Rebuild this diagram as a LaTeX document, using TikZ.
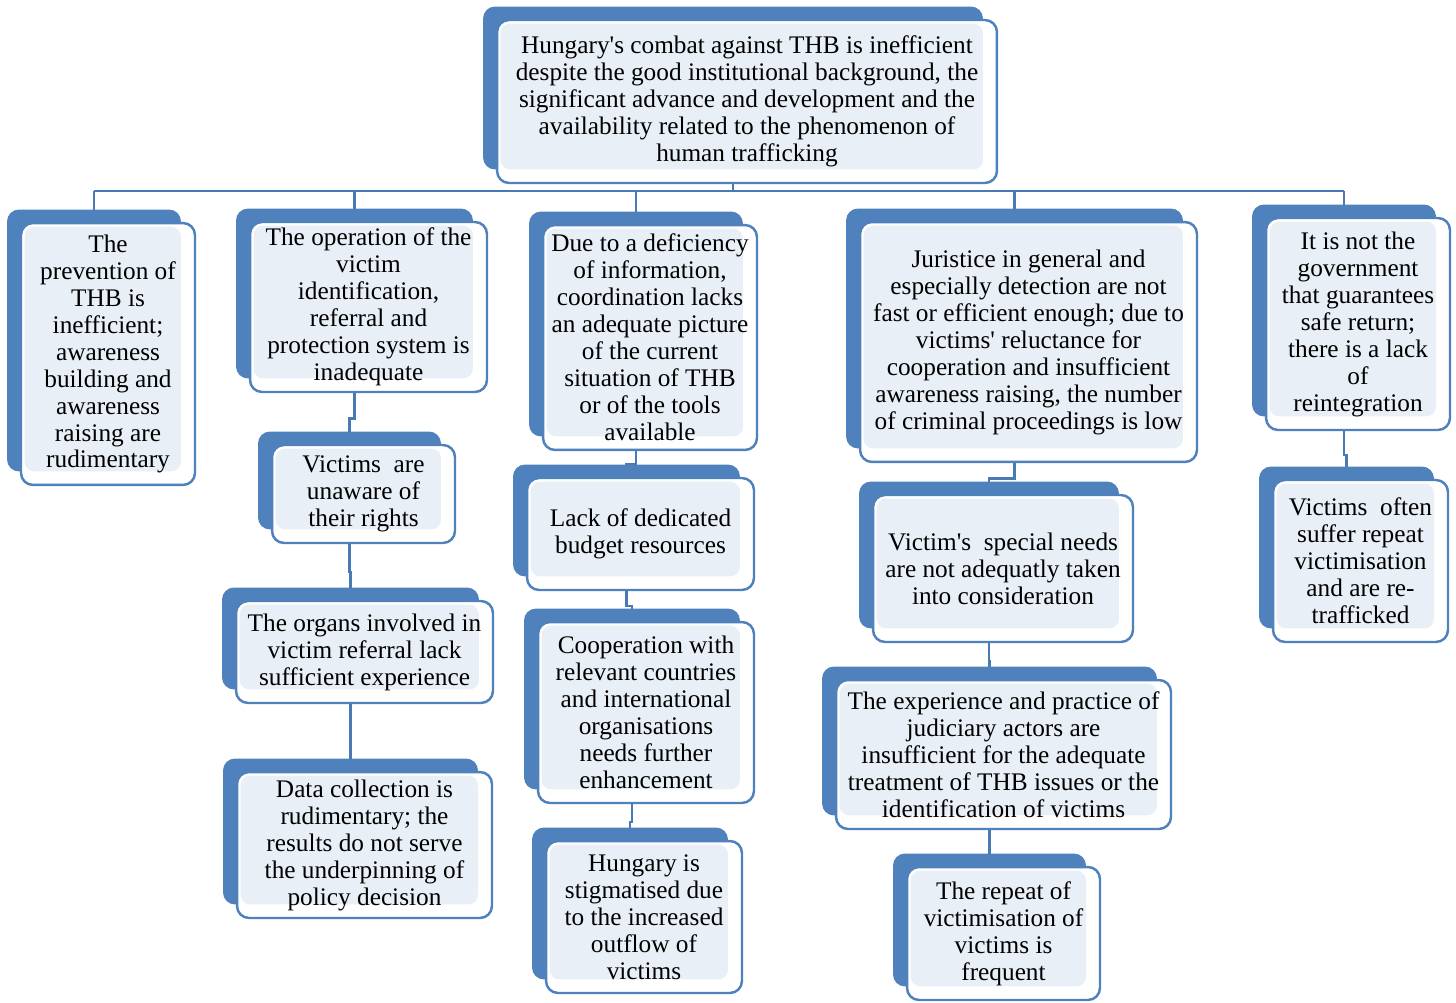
\documentclass[tikz,border=0pt]{standalone}
\usepackage{fontspec}
\setmainfont{Liberation Serif}
\usepackage[HTML]{xcolor}
\usepackage{tikz}
\usetikzlibrary{positioning, calc, shadows, backgrounds}

\definecolor{boxblue}{HTML}{4F81BD}
\definecolor{boxtint}{HTML}{E9EFF7}
\definecolor{linkblue}{HTML}{4A7AB4}

\begin{document}
\begin{tikzpicture}[x=0.02cm, y=-0.02cm,
  every node/.style={font=\fontsize{14.4}{15.36}\selectfont},
  probbox/.style={rectangle, rounded corners=0.24cm, draw=boxblue, line width=1.4pt,
    fill=white, align=center, inner sep=1pt,
    general shadow={fill=boxblue, shadow xshift=-0.28cm, shadow yshift=0.27cm},
    path picture={\fill[boxtint, rounded corners=0.2cm]
      ([shift={(0.07cm,0.27cm)}]path picture bounding box.south west) rectangle
      ([shift={(-0.28cm,-0.07cm)}]path picture bounding box.north east);}},
  link/.style={draw=linkblue, line width=1.5pt}]
\useasboundingbox (0,0) rectangle (1456,1003);

% Define the nodes
\node[probbox, minimum width=10cm, minimum height=3.26cm] (top) at (747,101.5)
  {Hungary\textquotesingle s combat against THB is inefficient\\despite the good institutional background, the\\significant advance and development and the\\availability related to the phenomenon of\\human trafficking};

\node[probbox, minimum width=3.48cm, minimum height=5.24cm] (prev) at (108,354)
  {The\\prevention of\\THB is\\inefficient;\\awareness\\building and\\awareness\\raising are\\rudimentary};

\node[probbox, minimum width=4.74cm, minimum height=3.4cm] (oper) at (368.5,307)
  {The operation of the\\victim\\identification,\\referral and\\protection system is\\inadequate};
\node[probbox, minimum width=3.66cm, minimum height=1.96cm] (unaware) at (363.5,494)
  {Victims\ \ are\\unaware of\\their rights};
\node[probbox, minimum width=5.14cm, minimum height=2.04cm] (organs) at (364.5,652)
  {The organs involved in\\victim referral lack\\sufficient experience};
\node[probbox, minimum width=5.1cm, minimum height=2.92cm] (data) at (364.5,845)
  {Data collection is\\rudimentary; the\\results do not serve\\the underpinning of\\policy decision};

\node[probbox, minimum width=4.28cm, minimum height=4.5cm] (defic) at (650,337.5)
  {Due to a deficiency\\of information,\\coordination lacks\\an adequate picture\\of the current\\situation of THB\\or of the tools\\available};
\node[probbox, minimum width=4.54cm, minimum height=2.24cm] (budget) at (640.5,534)
  {Lack of dedicated\\budget resources};
\node[probbox, minimum width=4.32cm, minimum height=3.62cm] (coop) at (646,712.5)
  {Cooperation with\\relevant countries\\and international\\organisations\\needs further\\enhancement};
\node[probbox, minimum width=3.92cm, minimum height=3.04cm] (stigma) at (644,917)
  {Hungary is\\stigmatised due\\to the increased\\outflow of\\victims};

\node[probbox, minimum width=6.74cm, minimum height=4.8cm] (just) at (1028.5,342)
  {Juristice in general and\\especially detection are not\\fast or efficient enough; due to\\victims\textquotesingle\ reluctance for\\cooperation and insufficient\\awareness raising, the number\\of criminal proceedings is low};
\node[probbox, minimum width=5.2cm, minimum height=2.94cm] (needs) at (1003,568.5)
  {Victim\textquotesingle s\ \ special needs\\are not adequatly taken\\into consideration};
\node[probbox, minimum width=6.7cm, minimum height=2.98cm] (exper) at (1003.5,754.5)
  {The experience and practice of\\judiciary actors are\\insufficient for the adequate\\treatment of THB issues or the\\identification of victims};
\node[probbox, minimum width=3.86cm, minimum height=2.66cm] (repeat) at (1003.5,933.5)
  {The repeat of\\victimisation of\\victims is\\frequent};

\node[probbox, minimum width=3.68cm, minimum height=4.24cm] (gov) at (1358,324)
  {It is not the\\government\\that guarantees\\safe return;\\there is a lack\\of\\reintegration};
\node[probbox, minimum width=3.5cm, minimum height=3.24cm] (often) at (1360.5,561)
  {Victims\ \ often\\suffer repeat\\victimisation\\and are re-\\trafficked};

% Draw the links
\coordinate (bus) at (0,191);
\begin{scope}[on background layer]
\draw[link] ([xshift=-0.28cm]top.south) -- ([xshift=-0.28cm]top.south |- bus);
\draw[link] ([xshift=-0.28cm]prev.north |- bus) -- ([xshift=-0.28cm]gov.north |- bus);
\foreach \n in {prev, oper, defic, just, gov}
  \draw[link] ([xshift=-0.28cm]\n.north |- bus) -- ([xshift=-0.28cm]\n.north);
\foreach \a/\b in {oper/unaware, unaware/organs, organs/data,
                   defic/budget, budget/coop, coop/stigma,
                   just/needs, needs/exper, exper/repeat, gov/often}
  \draw[link] ([xshift=-0.28cm]\a.south)
    |- ([xshift=-0.28cm]$(\a.south)!0.5!(\b.north)$)
    -| ([xshift=-0.28cm]\b.north);
\end{scope}
\end{tikzpicture}
\end{document}
